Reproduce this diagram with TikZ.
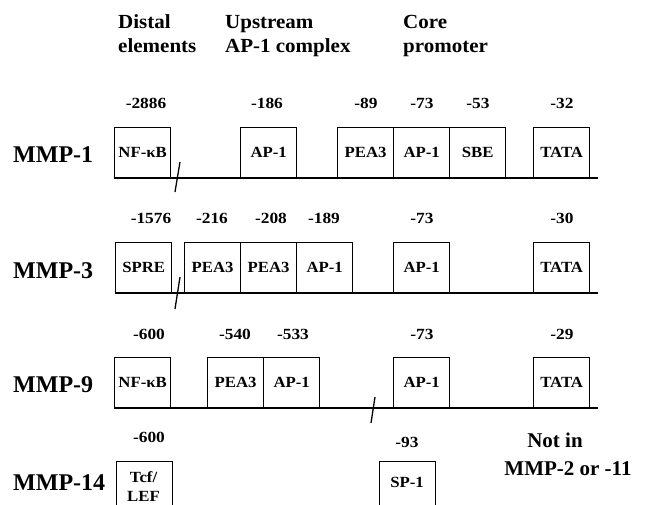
\documentclass[tikz,border=0pt]{standalone}
\usepackage{fontspec}
\setmainfont{Liberation Serif}
\newfontfamily\lblfont[FakeStretch=1.08]{Liberation Serif}
\newfontfamily\numfont[FakeStretch=1.12]{Liberation Serif}
\newfontfamily\headfont[FakeStretch=1.05]{Liberation Serif}
\begin{document}
\begin{tikzpicture}[x=1pt,y=-1pt,
  gbox/.style={draw, line width=1.3pt, minimum width=56pt, minimum height=50pt, inner sep=0pt, anchor=south west, font=\lblfont\bfseries\fontsize{15.5}{17}\selectfont},
  topbox/.style={draw, line width=1.3pt, minimum width=56pt, minimum height=60pt, inner sep=0pt, anchor=north west},
  lbl/.style={font=\lblfont\bfseries\fontsize{15.5}{17}\selectfont, anchor=base, inner sep=0pt},
  num/.style={font=\numfont\bfseries\fontsize{15.5}{17}\selectfont, anchor=base, inner sep=0pt},
  gene/.style={font=\bfseries\fontsize{24}{28}\selectfont, anchor=base west, inner sep=0pt},
  head/.style={font=\headfont\bfseries\fontsize{20}{23}\selectfont, anchor=base west, inner sep=0pt},
  note/.style={font=\bfseries\fontsize{21}{24}\selectfont, anchor=base, inner sep=0pt},
  dna/.style={line width=1.4pt},
  brk/.style={line width=1.3pt}]
\useasboundingbox (0,0) rectangle (645,505);
\clip (0,0) rectangle (645,505);

% headers
\node[head] (h1a) at (118,29) {Distal};
\node[head] (h1b) at (118,53) {elements};
\node[head] (h2a) at (225,29) {Upstream};
\node[head] (h2b) at (225,53) {AP-1 complex};
\node[head] (h3a) at (403,29) {Core};
\node[head] (h3b) at (403,53) {promoter};

% MMP-1
\node[gene] (g1) at (13,163) {MMP-1};
\coordinate (m1s) at (114,178); \coordinate (m1e) at (598,178);
\draw[dna] (m1s) -- (m1e);
\node[gbox] (b11) at (114,178) {NF-κB};
\node[gbox] (b12) at (240,178) {AP-1};
\node[gbox] (b13) at (337,178) {PEA3};
\node[gbox] (b14) at (393,178) {AP-1};
\node[gbox] (b15) at (449,178) {SBE};
\node[gbox] (b16) at (533,178) {TATA};
\node[num] (n11) at (146,109) {-2886};
\node[num] (n12) at (267,109) {-186};
\node[num] (n13) at (366,109) {-89};
\node[num] (n14) at (422,109) {-73};
\node[num] (n15) at (478,109) {-53};
\node[num] (n16) at (562,109) {-32};
\coordinate (k1a) at (180,162); \coordinate (k1b) at (175,192);
\draw[brk] (k1a) -- (k1b);

% MMP-3
\node[gene] (g3) at (13,278) {MMP-3};
\coordinate (m3s) at (115,293); \coordinate (m3e) at (598,293);
\draw[dna] (m3s) -- (m3e);
\node[gbox] (b31) at (115,293) {SPRE};
\node[gbox] (b32) at (184,293) {PEA3};
\node[gbox] (b33) at (240,293) {PEA3};
\node[gbox] (b34) at (296,293) {AP-1};
\node[gbox] (b35) at (393,293) {AP-1};
\node[gbox] (b36) at (533,293) {TATA};
\node[num] (n31) at (151,224) {-1576};
\node[num] (n32) at (212,224) {-216};
\node[num] (n33) at (271,224) {-208};
\node[num] (n34) at (324,224) {-189};
\node[num] (n35) at (422,224) {-73};
\node[num] (n36) at (562,224) {-30};
\coordinate (k3a) at (180,277); \coordinate (k3b) at (175,309);
\draw[brk] (k3a) -- (k3b);

% MMP-9
\node[gene] (g9) at (13,392) {MMP-9};
\coordinate (m9s) at (114,408); \coordinate (m9e) at (598,408);
\draw[dna] (m9s) -- (m9e);
\node[gbox] (b91) at (114,408) {NF-κB};
\node[gbox] (b92) at (207,408) {PEA3};
\node[gbox] (b93) at (263,408) {AP-1};
\node[gbox] (b94) at (393,408) {AP-1};
\node[gbox] (b95) at (533,408) {TATA};
\node[num] (n91) at (149,339) {-600};
\node[num] (n92) at (235,339) {-540};
\node[num] (n93) at (293,339) {-533};
\node[num] (n94) at (422,339) {-73};
\node[num] (n95) at (562,339) {-29};
\coordinate (k9a) at (375,397); \coordinate (k9b) at (371,423);
\draw[brk] (k9a) -- (k9b);

% MMP-14
\node[gene] (g14) at (13,490) {MMP-14};
\node[topbox] (b141) at (116,461) {};
\node[topbox] (b142) at (379,461) {};
\node[lbl] (t141) at (143.5,482) {Tcf/};
\node[lbl] (t142) at (143.5,501) {LEF};
\node[lbl] (t143) at (407,487) {SP-1};
\node[num] (n141) at (149,442) {-600};
\node[num] (n142) at (407,447) {-93};
\node[note] (x1) at (555,447) {Not in};
\node[note] (x2) at (568,475) {MMP-2 or -11};
\end{tikzpicture}
\end{document}
